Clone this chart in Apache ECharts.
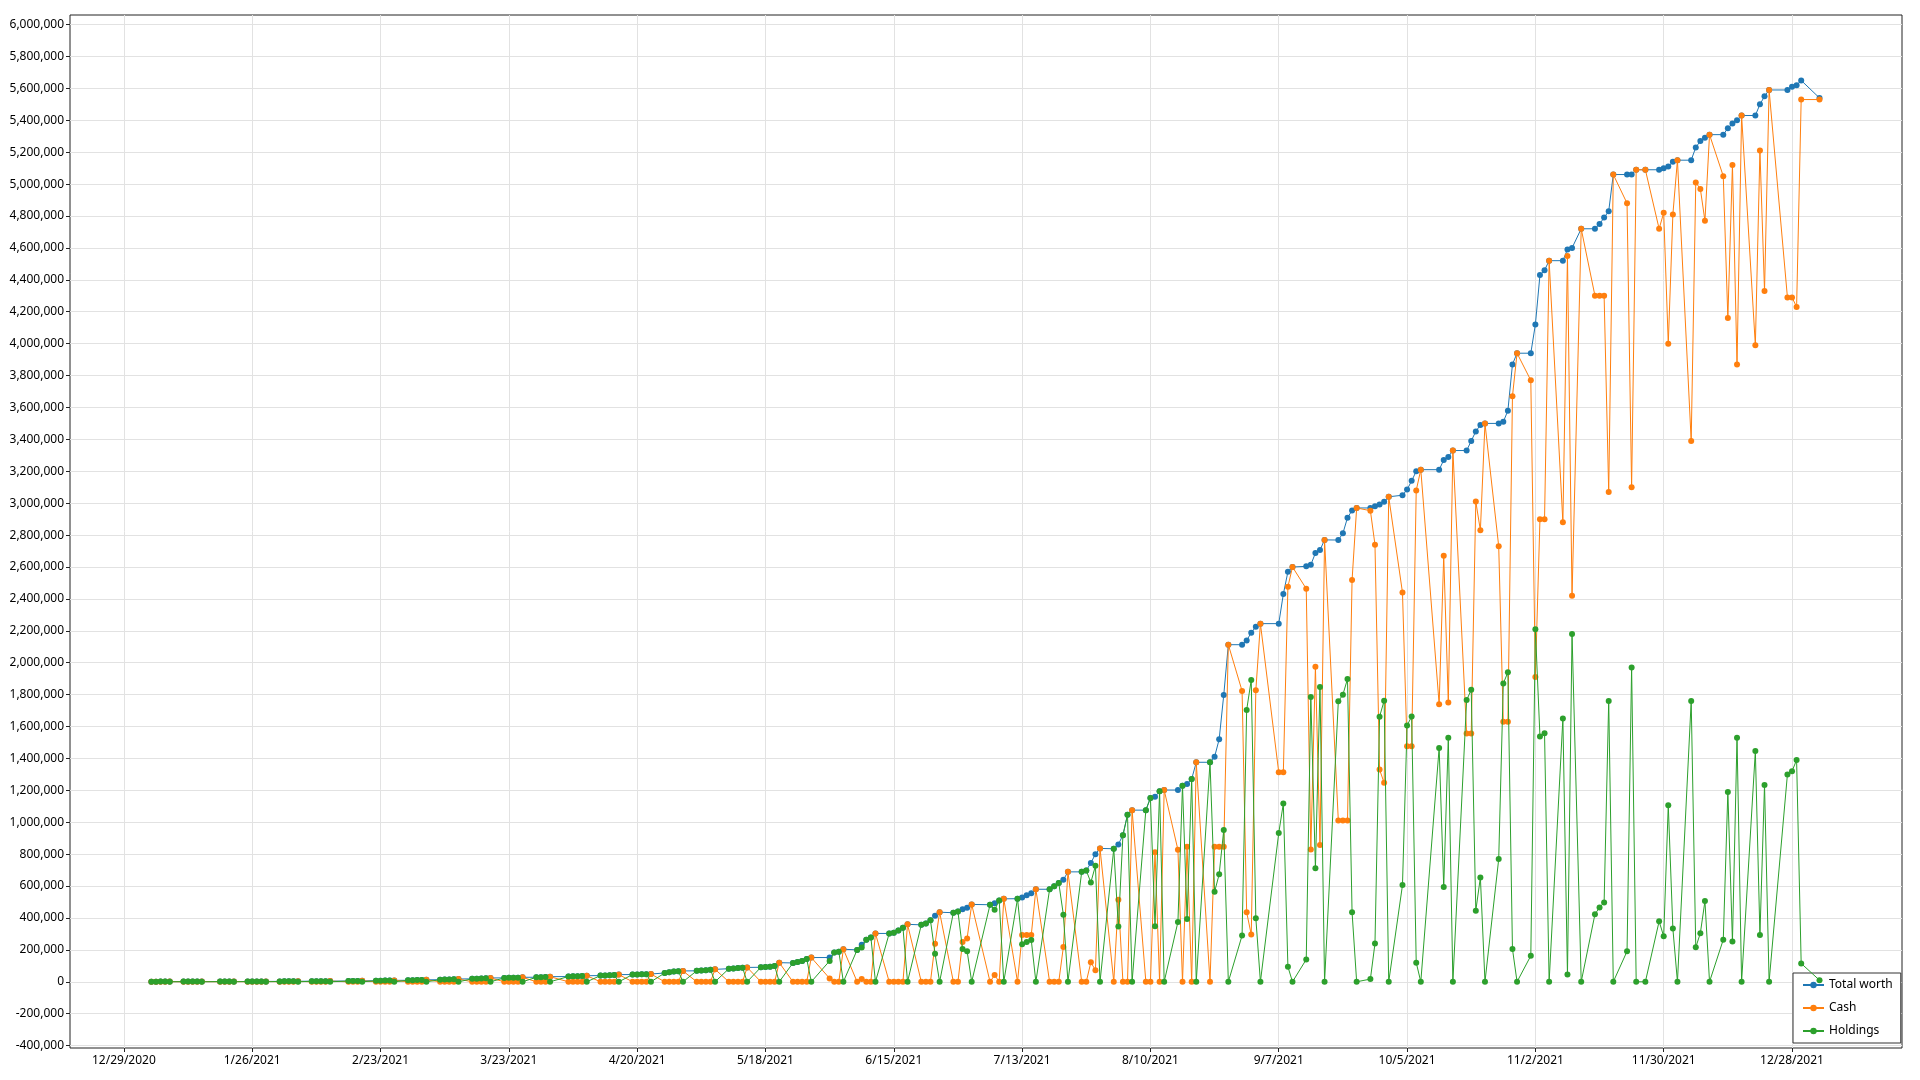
<!DOCTYPE html>
<html><head><meta charset="utf-8">
<script src="https://cdn.jsdelivr.net/npm/echarts@6/dist/echarts.min.js"></script>
<style>html,body{margin:0;padding:0;background:#fff}#c{width:1920px;height:1080px}</style>
</head><body><div id="c"></div>
<script>
// ---- data ----
const dates = [
'2021-01-04','2021-01-05','2021-01-06','2021-01-07','2021-01-08','2021-01-11','2021-01-12','2021-01-13','2021-01-14','2021-01-15','2021-01-19','2021-01-20','2021-01-21','2021-01-22','2021-01-25','2021-01-26','2021-01-27','2021-01-28','2021-01-29',
'2021-02-01','2021-02-02','2021-02-03','2021-02-04','2021-02-05','2021-02-08','2021-02-09','2021-02-10','2021-02-11','2021-02-12','2021-02-16','2021-02-17','2021-02-18','2021-02-19','2021-02-22','2021-02-23','2021-02-24','2021-02-25','2021-02-26',
'2021-03-01','2021-03-02','2021-03-03','2021-03-04','2021-03-05','2021-03-08','2021-03-09','2021-03-10','2021-03-11','2021-03-12','2021-03-15','2021-03-16','2021-03-17','2021-03-18','2021-03-19','2021-03-22','2021-03-23','2021-03-24','2021-03-25','2021-03-26','2021-03-29','2021-03-30','2021-03-31',
'2021-04-01','2021-04-05','2021-04-06','2021-04-07','2021-04-08','2021-04-09','2021-04-12','2021-04-13','2021-04-14','2021-04-15','2021-04-16','2021-04-19','2021-04-20','2021-04-21','2021-04-22','2021-04-23','2021-04-26','2021-04-27','2021-04-28','2021-04-29','2021-04-30',
'2021-05-03','2021-05-04','2021-05-05','2021-05-06','2021-05-07','2021-05-10','2021-05-11','2021-05-12','2021-05-13','2021-05-14','2021-05-17','2021-05-18','2021-05-19','2021-05-20','2021-05-21','2021-05-24','2021-05-25','2021-05-26','2021-05-27','2021-05-28',
'2021-06-01','2021-06-02','2021-06-03','2021-06-04','2021-06-07','2021-06-08','2021-06-09','2021-06-10','2021-06-11','2021-06-14','2021-06-15','2021-06-16','2021-06-17','2021-06-18','2021-06-21','2021-06-22','2021-06-23','2021-06-24','2021-06-25','2021-06-28','2021-06-29','2021-06-30',
'2021-07-01','2021-07-02','2021-07-06','2021-07-07','2021-07-08','2021-07-09','2021-07-12','2021-07-13','2021-07-14','2021-07-15','2021-07-16','2021-07-19','2021-07-20','2021-07-21','2021-07-22','2021-07-23','2021-07-26','2021-07-27','2021-07-28','2021-07-29','2021-07-30',
'2021-08-02','2021-08-03','2021-08-04','2021-08-05','2021-08-06','2021-08-09','2021-08-10','2021-08-11','2021-08-12','2021-08-13','2021-08-16','2021-08-17','2021-08-18','2021-08-19','2021-08-20','2021-08-23','2021-08-24','2021-08-25','2021-08-26','2021-08-27','2021-08-30','2021-08-31',
'2021-09-01','2021-09-02','2021-09-03','2021-09-07','2021-09-08','2021-09-09','2021-09-10','2021-09-13','2021-09-14','2021-09-15','2021-09-16','2021-09-17','2021-09-20','2021-09-21','2021-09-22','2021-09-23','2021-09-24','2021-09-27','2021-09-28','2021-09-29','2021-09-30',
'2021-10-01','2021-10-04','2021-10-05','2021-10-06','2021-10-07','2021-10-08','2021-10-12','2021-10-13','2021-10-14','2021-10-15','2021-10-18','2021-10-19','2021-10-20','2021-10-21','2021-10-22','2021-10-25','2021-10-26','2021-10-27','2021-10-28','2021-10-29',
'2021-11-01','2021-11-02','2021-11-03','2021-11-04','2021-11-05','2021-11-08','2021-11-09','2021-11-10','2021-11-12','2021-11-15','2021-11-16','2021-11-17','2021-11-18','2021-11-19','2021-11-22','2021-11-23','2021-11-24','2021-11-26','2021-11-29','2021-11-30',
'2021-12-01','2021-12-02','2021-12-03','2021-12-06','2021-12-07','2021-12-08','2021-12-09','2021-12-10','2021-12-13','2021-12-14','2021-12-15','2021-12-16','2021-12-17','2021-12-20','2021-12-21','2021-12-22','2021-12-23','2021-12-27','2021-12-28','2021-12-29','2021-12-30',
'2022-01-03'
];
const totalWorth = [
1000,1000,1100,1100,1200,1200,1300,1300,1400,1500,1500,1600,1700,1800,1900,2000,2100,2200,2400,
2500,2700,2800,3000,3300,3400,3600,3800,4000,4400,4700,5000,5300,6000,6500,7000,7400,7900,8800,
9500,10000,10500,11000,12500,13000,14000,14500,15500,17500,18500,19500,20500,21500,24000,24500,25000,25500,26000,28000,28500,29000,29500,
32000,33000,34000,35000,36000,38000,39000,40000,41000,42000,45000,45500,46000,46500,47000,49000,55000,60000,64000,66000,68000,
69000,71000,73000,76000,78000,82000,84000,86000,88000,90000,91000,93000,95000,99000,120000,118000,124000,130000,143000,152000,
152000,183000,189000,204000,200000,232000,263000,278000,303000,303000,307000,322000,339000,360000,357000,366000,385000,414000,436000,433000,440000,454000,
464000,485000,483000,493000,510000,520000,521000,528000,542000,555000,580000,580000,599000,620000,639000,689000,689000,697000,745000,800000,836000,
834000,861000,919000,1047000,1076000,1076000,1152000,1160000,1194000,1202000,1202000,1229000,1240000,1271000,1376000,1376000,1410000,1520000,1798000,2113000,2113000,2140000,
2188000,2226000,2245000,2245000,2430000,2570000,2600000,2604000,2614000,2687000,2706000,2770000,2769000,2811000,2909000,2954000,2970000,2970000,2980000,2992000,3009000,
3040000,3050000,3085000,3140000,3200000,3210000,3210000,3270000,3290000,3330000,3330000,3390000,3450000,3490000,3500000,3500000,3510000,3580000,3870000,3940000,
3940000,4120000,4430000,4460000,4520000,4520000,4590000,4600000,4720000,4720000,4750000,4790000,4830000,5060000,5060000,5060000,5090000,5090000,5090000,5100000,
5110000,5140000,5150000,5150000,5230000,5270000,5290000,5310000,5310000,5350000,5380000,5400000,5430000,5430000,5500000,5550000,5590000,5590000,5610000,5620000,5650000,
5540000
];
const cash = [
0,0,0,0,1200,0,0,0,0,1500,0,0,0,1800,0,0,0,0,2400,
0,0,0,0,3300,0,0,0,0,4400,0,0,0,6000,0,0,0,0,8800,
0,0,0,0,12500,0,0,0,0,17500,0,0,0,0,24000,0,0,0,0,28000,0,0,0,
32000,0,0,0,0,38000,0,0,0,0,45000,0,0,0,0,49000,0,0,0,0,68000,
0,0,0,0,78000,0,0,0,0,90000,0,0,0,0,120000,0,0,0,0,152000,
21000,0,0,204000,0,17000,0,0,303000,0,0,0,0,360000,0,0,0,238000,436000,0,0,249000,
272000,485000,0,42000,0,520000,0,293000,293000,293000,580000,0,0,0,218000,689000,0,0,122000,73000,836000,
0,515000,0,0,1076000,0,0,812000,0,1202000,827000,0,846000,0,1376000,0,846000,846000,846000,2113000,1823000,436000,
296000,1827000,2245000,1313000,1313000,2476000,2600000,2464000,829000,1975000,858000,2770000,1011000,1011000,1011000,2518000,2970000,2953000,2740000,1330000,1247000,
3040000,2440000,1477000,1477000,3080000,3210000,1740000,2670000,1750000,3330000,1557000,1557000,3010000,2830000,3500000,2730000,1630000,1630000,3670000,3940000,
3770000,1910000,2900000,2900000,4520000,2880000,4550000,2420000,4720000,4300000,4300000,4300000,3070000,5060000,4880000,3100000,5090000,5090000,4720000,4820000,
4000000,4810000,5150000,3390000,5010000,4970000,4770000,5310000,5050000,4160000,5120000,3870000,5430000,3990000,5210000,4330000,5590000,4290000,4290000,4230000,5530000,
5530000
];
const holdings = [
1000,1000,1100,1100,0,1200,1300,1300,1400,0,1500,1600,1700,0,1900,2000,2100,2200,0,
2500,2700,2800,3000,0,3400,3600,3800,4000,0,4700,5000,5300,0,6500,7000,7400,7900,0,
9500,10000,10500,11000,0,13000,14000,14500,15500,0,18500,19500,20500,21500,0,24500,25000,25500,26000,0,28500,29000,29500,
0,33000,34000,35000,36000,0,39000,40000,41000,42000,0,45500,46000,46500,47000,0,55000,60000,64000,66000,0,
69000,71000,73000,76000,0,82000,84000,86000,88000,0,91000,93000,95000,99000,0,118000,124000,130000,143000,0,
131000,183000,189000,0,200000,215000,263000,278000,0,303000,307000,322000,339000,0,357000,366000,385000,176000,0,433000,440000,205000,
192000,0,483000,451000,510000,0,521000,235000,249000,262000,0,580000,599000,620000,421000,0,689000,697000,623000,727000,0,
834000,346000,919000,1047000,0,1076000,1152000,348000,1194000,0,375000,1229000,394000,1271000,0,1376000,564000,674000,952000,0,290000,1704000,
1892000,399000,0,932000,1117000,94000,0,140000,1785000,712000,1848000,0,1758000,1800000,1898000,436000,0,17000,240000,1662000,1762000,
0,606000,1606000,1663000,120000,0,1466000,594000,1530000,0,1766000,1830000,446000,654000,0,769000,1870000,1940000,206000,0,
163000,2210000,1537000,1558000,0,1650000,45000,2180000,0,424000,466000,497000,1760000,0,191000,1970000,0,0,379000,285000,
1106000,334000,0,1760000,216000,305000,506000,0,264000,1190000,253000,1530000,0,1446000,294000,1234000,0,1300000,1320000,1390000,115000,
10000
];
const xTickDates = ['2020-12-29','2021-01-26','2021-02-23','2021-03-23','2021-04-20','2021-05-18','2021-06-15','2021-07-13','2021-08-10','2021-09-07','2021-10-05','2021-11-02','2021-11-30','2021-12-28'];
const yTicks = [-400000,-200000,0,200000,400000,600000,800000,1000000,1200000,1400000,1600000,1800000,2000000,2200000,2400000,2600000,2800000,3000000,3200000,3400000,3600000,3800000,4000000,4200000,4400000,4600000,4800000,5000000,5200000,5400000,5600000,5800000,6000000];
const seriesNames = ['Total worth','Cash','Holdings'];
const seriesColors = ['#1f77b4','#ff7f0e','#2ca02c'];

// ---- chart ----
const DAY = 86400000;
function ts(s){ const p = s.split('-').map(Number); return Date.UTC(p[0], p[1]-1, p[2]); }
function fmtDate(v){ const d = new Date(v); return (d.getUTCMonth()+1)+'/'+d.getUTCDate()+'/'+d.getUTCFullYear(); }
const origin = ts('2020-12-29');
const FONT = "'Segoe UI','Noto Sans',sans-serif";

const chart = echarts.init(document.getElementById('c'), null, {renderer:'canvas'});
const values = [totalWorth, cash, holdings];
const series = seriesNames.map((name, k) => ({
  name: name, type: 'line',
  data: dates.map((d, i) => [ts(d), values[k][i]]),
  symbol: 'circle', symbolSize: 6, showSymbol: true, showAllSymbol: true,
  lineStyle: {width: 1, color: seriesColors[k]},
  itemStyle: {color: seriesColors[k]},
  emphasis: {disabled: true},
  z: 2 + k
}));

chart.setOption({
  animation: false,
  backgroundColor: '#fff',
  grid: {left: 70, right: 18, top: 15, bottom: 32, show: true, borderColor: '#222', borderWidth: 1, backgroundColor: 'transparent'},
  xAxis: {
    type: 'value',
    min: origin - 11.76 * DAY,
    max: origin + 388.0 * DAY,
    axisLine: {show: false, onZero: false},
    axisTick: {show: true, length: 4, lineStyle: {color: '#222'}, customValues: xTickDates.map(ts)},
    axisLabel: {customValues: xTickDates.map(ts), formatter: fmtDate, color: '#000', fontSize: 12, fontFamily: FONT, margin: 7},
    splitLine: {show: true, lineStyle: {color: '#e2e2e2', width: 1}}
  },
  yAxis: {
    type: 'value',
    min: -415000, max: 6060000,
    axisLine: {show: false, onZero: false},
    axisTick: {show: true, length: 4, lineStyle: {color: '#222'}, customValues: yTicks},
    axisLabel: {customValues: yTicks, formatter: v => Number(v).toLocaleString('en-US'), color: '#000', fontSize: 12, fontFamily: FONT, margin: 6},
    splitLine: {show: true, lineStyle: {color: '#e2e2e2', width: 1}}
  },
  legend: {
    data: seriesNames, orient: 'vertical', left: 1793, top: 973,
    padding: [6, 8, 6, 9], itemGap: 11, itemWidth: 21, itemHeight: 8,
    backgroundColor: '#fff', borderColor: '#333', borderWidth: 1, borderRadius: 0,
    textStyle: {fontSize: 12, color: '#000', fontFamily: FONT}
  },
  series: series
});
</script>
</body></html>
